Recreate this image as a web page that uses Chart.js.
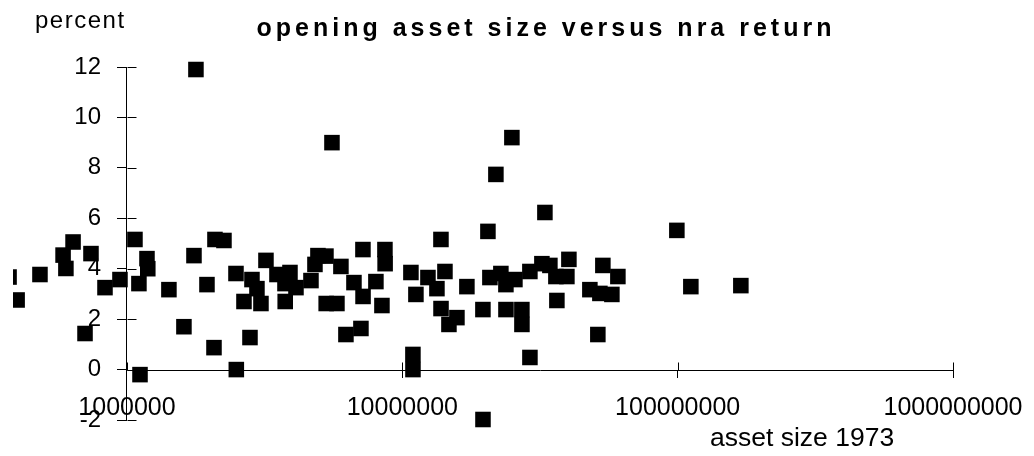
<!DOCTYPE html>
<html>
<head>
<meta charset="utf-8">
<script src="https://cdn.jsdelivr.net/npm/chart.js@4/dist/chart.umd.min.js"></script>
<style>
  html, body { margin: 0; padding: 0; background: #ffffff; }
  #wrap { width: 1034px; height: 456px; }
</style>
</head>
<body>
<div id="wrap"><canvas id="c" width="1034" height="456"></canvas></div>
<script>
// ---- data ----
const assetSize = [
  373000, 399000, 483000, 586000, 600000, 637000, 704000, 740000, 832000, 943000,
  1069000, 1105000, 1115000, 1182000, 1190000, 1420000, 1610000, 1751000, 1780000, 1952000,
  2070000, 2087000, 2250000, 2488000, 2495000, 2660000, 2797000, 2844000, 2965000, 3066000,
  3197000, 3505000, 3748000, 3755000, 3908000, 4109000, 4658000, 4816000, 4938000, 5280000,
  5290000, 5552000, 5788000, 5984000, 6240000, 6673000, 7074000, 7194000, 7200000, 8018000,
  8433000, 8647000, 8660000, 10745000, 10927000, 10930000, 11204000, 12390000, 13357000, 13813000,
  13820000, 14283000, 14767000, 15788000, 17160000, 19620000, 19630000, 20460000, 20800000, 21870000,
  22800000, 23780000, 23790000, 25000000, 25640000, 27180000, 27190000, 29060000, 29070000, 32130000,
  32950000, 34350000, 36120000, 36420000, 39600000, 40270000, 47990000, 51300000, 52180000, 53500000,
  57690000, 60660000, 99330000, 111660000, 169630000
];
const nraReturn = [
  3.67, 2.76, 3.77, 4.54, 4.01, 5.06, 1.43, 4.6, 3.25, 3.57,
  5.16, 3.41, -0.2, 4.4, 4.0, 3.17, 1.7, 4.52, 11.9, 3.37,
  0.87, 5.16, 5.12, 3.81, 0.0, 2.7, 1.27, 3.57, 3.21, 2.62,
  4.33, 3.77, 3.41, 2.7, 3.85, 3.25, 3.53, 4.17, 4.52, 4.5,
  2.62, 9.0, 2.62, 4.09, 1.39, 3.45, 1.63, 4.76, 2.9, 3.49,
  2.54, 4.76, 4.2, 3.85, 0.6, 0.0, 2.98, 3.65, 3.21, 5.16,
  2.42, 3.89, 1.79, 2.06, 3.29, 2.38, -1.98, 5.48, 3.65, 7.74,
  3.81, 3.37, 2.38, 9.2, 3.57, 2.38, 1.79, 3.89, 0.48, 4.2,
  6.23, 4.13, 3.69, 2.74, 3.69, 4.37, 3.17, 1.39, 3.02, 4.13,
  2.98, 3.69, 5.52, 3.29, 3.33
];
const xTickValues = [1000000, 10000000, 100000000, 1000000000];
const yTickStep = 2;
const titleText = 'opening asset size versus nra return';
const yAxisTitle = 'percent';
const xAxisTitle = 'asset size 1973';

const points = assetSize.map((v, i) => ({ x: v, y: nraReturn[i] }));

const FONT = "'Liberation Sans', Arial, sans-serif";
const Y_LABEL_GAP = 26; // distance from the axis line to the right edge of the y tick labels

const decor = {
  id: 'decor',
  afterDraw(chart) {
    const ctx = chart.ctx;
    const xs = chart.scales.x, ys = chart.scales.y;
    ctx.save();
    ctx.strokeStyle = '#000';
    ctx.lineWidth = 1;
    const ax = Math.round(xs.getPixelForValue(xTickValues[0])) + 0.5;
    const ay = Math.round(ys.getPixelForValue(0)) + 0.5;
    const xEnd = Math.round(xs.getPixelForValue(xTickValues[xTickValues.length - 1])) + 0.5;
    ctx.beginPath();
    // x axis line (starts at the y axis, as in the reference)
    ctx.moveTo(ax, ay); ctx.lineTo(xEnd, ay);
    // inner halves of the crossing tick marks
    ys.ticks.forEach(t => {
      const py = Math.round(ys.getPixelForValue(t.value)) + 0.5;
      ctx.moveTo(ax, py); ctx.lineTo(ax + 9, py);
    });
    xs.ticks.forEach(t => {
      const px = Math.round(xs.getPixelForValue(t.value)) + 0.5;
      ctx.moveTo(px, ay); ctx.lineTo(px, ay - 8);
    });
    ctx.stroke();
    // texts
    ctx.fillStyle = '#000';
    ctx.textBaseline = 'alphabetic';
    if ('letterSpacing' in ctx) ctx.letterSpacing = '4px';
    ctx.font = 'bold 25px ' + FONT;
    ctx.textAlign = 'center';
    ctx.fillText(titleText, 546, 36);
    if ('letterSpacing' in ctx) ctx.letterSpacing = '1.5px';
    ctx.font = '24px ' + FONT;
    ctx.textAlign = 'left';
    ctx.fillText(yAxisTitle, 35, 28);
    if ('letterSpacing' in ctx) ctx.letterSpacing = '0px';
    ctx.font = '26.5px ' + FONT;
    ctx.fillText(xAxisTitle, 710, 446);
    ctx.restore();
  }
};

new Chart(document.getElementById('c'), {
  type: 'scatter',
  data: {
    datasets: [{
      data: points,
      pointStyle: 'rect',
      radius: 11,
      hoverRadius: 11,
      backgroundColor: '#000',
      borderColor: '#000',
      borderWidth: 0,
      clip: { left: 0, top: false, right: false, bottom: false }
    }]
  },
  options: {
    responsive: false,
    animation: false,
    devicePixelRatio: 1,
    layout: { padding: { left: 13, top: 67, right: 81, bottom: 36 } },
    plugins: { legend: { display: false }, tooltip: { enabled: false }, title: { display: false } },
    scales: {
      x: {
        type: 'logarithmic',
        min: 385500,
        max: 1000000000,
        bounds: 'data',
        position: { y: 0 },
        afterBuildTicks: (scale) => { scale.ticks = xTickValues.map(v => ({ value: v })); },
        afterFit: (scale) => { scale.paddingLeft = 0; scale.paddingRight = 0; },
        grid: { drawOnChartArea: false, drawTicks: true, tickLength: 8, color: '#000' },
        border: { display: false },
        ticks: {
          autoSkip: false, maxRotation: 0, minRotation: 0, padding: 16,
          color: '#000', font: { family: FONT, size: 25 },
          callback: (v) => String(v)
        }
      },
      y: {
        type: 'linear',
        min: -2,
        max: 12,
        position: { x: xTickValues[0] },
        afterFit: (scale) => { scale.paddingTop = 0; scale.paddingBottom = 0; },
        afterUpdate: (scale) => {
          if (scale._gapPatched) return;
          const orig = scale._computeLabelItems;
          scale._computeLabelItems = function (area) {
            const items = orig.call(this, area);
            items.forEach(it => {
              if (it.options && it.options.translation) it.options.translation[0] -= Y_LABEL_GAP;
            });
            return items;
          };
          scale._gapPatched = true;
        },
        grid: { drawOnChartArea: false, drawTicks: true, tickLength: 9, color: '#000' },
        border: { display: true, color: '#000', width: 1 },
        ticks: {
          stepSize: yTickStep, padding: 17,
          color: '#000', font: { family: FONT, size: 24 }
        }
      }
    }
  },
  plugins: [decor]
});
</script>
</body>
</html>
